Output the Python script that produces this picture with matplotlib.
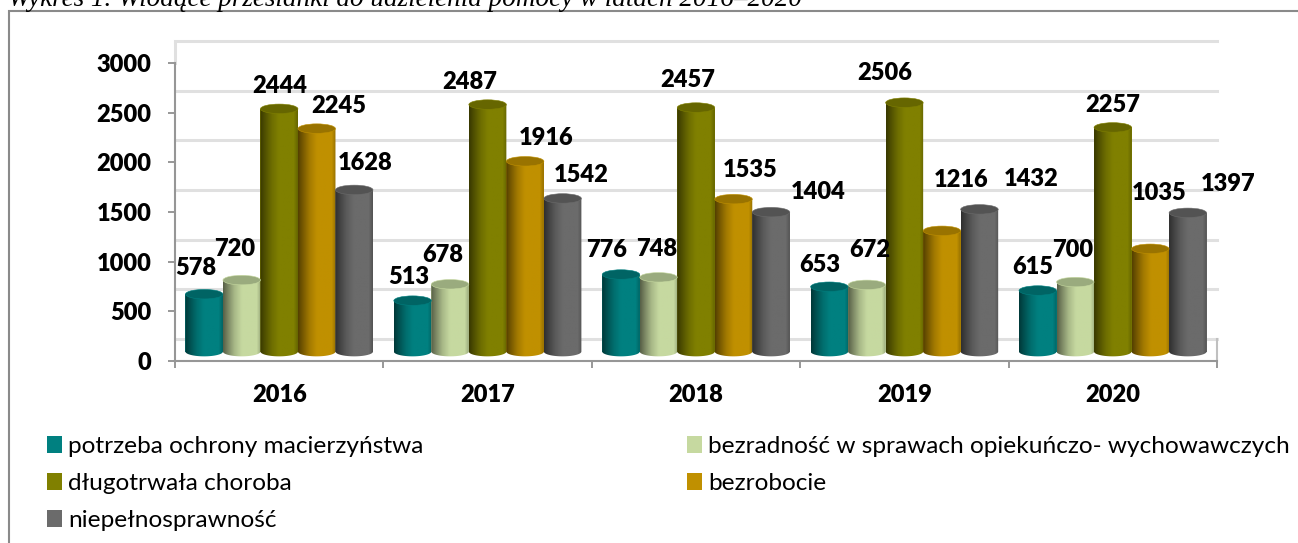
import numpy as np
import matplotlib
matplotlib.use("Agg")
import matplotlib.pyplot as plt
from matplotlib.colors import LinearSegmentedColormap, to_rgb
from matplotlib.patches import Ellipse, Patch, PathPatch, Rectangle
from matplotlib.path import Path

years = ["2016", "2017", "2018", "2019", "2020"]
series_names = ["potrzeba ochrony macierzyństwa",
                "bezradność w sprawach opiekuńczo- wychowawczych",
                "długotrwała choroba", "bezrobocie", "niepełnosprawność"]
ochrona = [578, 513, 776, 653, 615]
bezradnosc = [720, 678, 748, 672, 700]
choroba = [2444, 2487, 2457, 2506, 2257]
bezrobocie = [2245, 1916, 1535, 1216, 1035]
niepelnospr = [1628, 1542, 1404, 1432, 1397]
yticks = [0, 500, 1000, 1500, 2000, 2500, 3000]
title = "Wykres 1. Wiodące przesłanki do udzielenia pomocy w latach 2016–2020"

series = [ochrona, bezradnosc, choroba, bezrobocie, niepelnospr]
colors = ["#008080", "#C6D9A0", "#808000", "#C09000", "#6B6B6B"]
caps = ["#006464", "#9AAB7E", "#666600", "#997300", "#535353"]
# label centres in figure pixels, per series, per year (labels were placed by hand)
label_px = [
    [(196, 268), (409, 277), (607, 250), (820, 265), (1033, 267)],
    [(235, 249), (443, 255), (657, 249), (870, 250), (1073, 250)],
    [(280, 86), (470, 82), (688, 80), (885, 73), (1113, 105)],
    [(339, 106), (546, 138), (750, 170), (961, 180), (1159, 193)],
    [(365, 163), (581, 175), (818, 192), (1031, 179), (1228, 184)],
]

W, H = 1298, 543
plt.rcParams["font.family"] = ["Lato", "DejaVu Sans"]
fig = plt.figure(figsize=(W / 100, H / 100), dpi=100)
fig.patch.set_facecolor("white")

L, R, B0, T3, TOP = 175, 1217, 361, 63, 42
units_per_px = 3000 / (B0 - T3)
ymax = (B0 - TOP) * units_per_px
ax = fig.add_axes([L / W, 1 - B0 / H, (R - L) / W, (B0 - TOP) / H])
ax.set_xlim(0, 5)
ax.set_ylim(0, ymax)
ax.patch.set_alpha(0)

# frame round the chart, cut by the lower and right edges of the picture
fig.add_artist(Rectangle((9 / W, -0.1), 1.1, 1.1 - 11 / H,
                         transform=fig.transFigure, fill=False,
                         ec="#8a8a8a", lw=1.5))
fig.text(8 / W, 1 - 6 / H, title, family="Liberation Serif", style="italic",
         fontsize=19.5, ha="left", va="baseline", color="black")

# back wall
wall = 22 * units_per_px
for v in yticks:
    ax.axhline(v + wall, color="#e0e0e0", lw=2.2, zorder=1, clip_on=False)
ax.plot([0, 0], [3000, ymax], color="#e0e0e0", lw=2.2, zorder=1, clip_on=False)
ax.plot([5, 5], [0, wall], color="#c0c0c0", lw=1.5, zorder=1, clip_on=False)

ax.set_yticks(yticks)
ax.set_xticks(range(6))
ax.set_xticklabels([])
ax.tick_params(axis="both", length=5, width=1.2, color="#868686", direction="out")
ax.tick_params(axis="y", labelsize=17, pad=12)
for t in ax.get_yticklabels():
    t.set_fontweight("heavy")
for i, y in enumerate(years):
    ax.text(i + 0.5, -34 * units_per_px, y, ha="center", va="center",
            fontsize=17, fontweight="heavy", zorder=5)
for s in ("top", "right"):
    ax.spines[s].set_visible(False)
for s in ("left", "bottom"):
    ax.spines[s].set_color("#969696")
    ax.spines[s].set_linewidth(1.5)
ax.spines["left"].set_bounds(0, 3000)

# cylinders
bw = 0.18
base = 9.4 * units_per_px
ell_h = 9.5 * units_per_px


def shade(c):
    r = np.array(to_rgb(c))
    stops = [(0.0, 0.45), (0.12, 0.62), (0.3, 0.85), (0.5, 1.0), (0.9, 1.0), (1.0, 0.8)]
    return LinearSegmentedColormap.from_list("c", [(p, tuple(r * m)) for p, m in stops])


grad = np.linspace(0, 1, 40)[None, :]
for j, (vals, col, cap) in enumerate(zip(series, colors, caps)):
    xs = np.arange(5) + 0.5 + (j - 2) * bw
    bars = ax.bar(xs, vals, width=bw, bottom=base, color=col, lw=0, zorder=3,
                  label=series_names[j])
    for x, v in zip(xs, vals):
        x0, x1 = x - bw / 2, x + bw / 2
        top = base + v
        t = np.linspace(np.pi, 2 * np.pi, 30)
        px = x + bw / 2 * np.cos(t)
        py = base + ell_h / 2 * np.sin(t)
        verts = np.column_stack([np.r_[px, x1, x0], np.r_[py, top, top]])
        clip = PathPatch(Path(verts), transform=ax.transData, fc="none", ec="none")
        ax.add_patch(clip)
        im = ax.imshow(grad, extent=(x0, x1, 0, top), aspect="auto", cmap=shade(col),
                       interpolation="bilinear", vmin=0, vmax=1, zorder=3.1)
        im.set_clip_path(clip)
        ax.add_patch(Ellipse((x, top), bw, ell_h, fc=cap, ec=col, lw=0.4, zorder=3.2))
ax.set_xlim(0, 5)
ax.set_ylim(0, ymax)

# value labels
for vals, pos in zip(series, label_px):
    for v, (px_x, px_y) in zip(vals, pos):
        fig.text(px_x / W, 1 - px_y / H, str(v), ha="center", va="center",
                 fontsize=17, fontweight="heavy", color="black")

order = [0, 2, 4, 1, 3]
handles = [Patch(fc=colors[k], ec="none", label=series_names[k]) for k in order]
fig.legend(handles=handles, ncols=2, loc="upper left",
           bbox_to_anchor=(40 / W, 1 - 429 / H), frameon=False,
           fontsize=17.6, handlelength=0.6, handleheight=0.7, handletextpad=0.24,
           labelspacing=0.64, columnspacing=10.8, borderaxespad=0, borderpad=0.3)

fig.savefig("out.png", dpi=100)
